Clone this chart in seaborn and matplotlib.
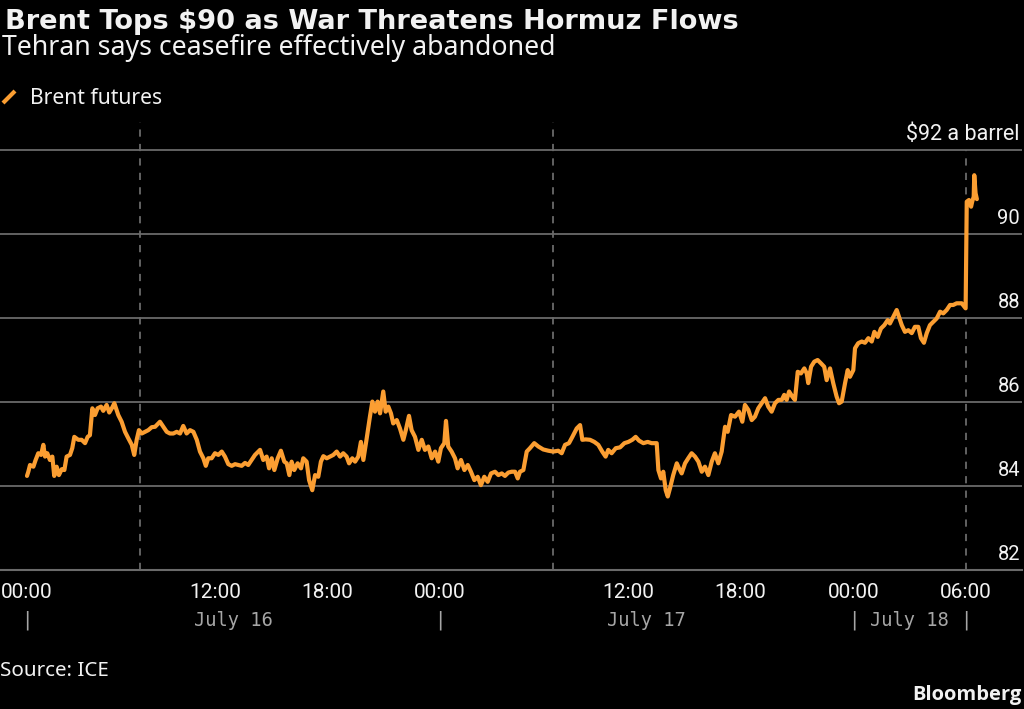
import matplotlib
matplotlib.use("Agg")
import matplotlib.pyplot as plt
import matplotlib.transforms as mtransforms
from matplotlib.lines import Line2D
import pandas as pd
import seaborn as sns

# x = trading hours since 00:00 July 16 (the 2h pause at 06:00 is skipped)
hours = [
    0.00, 0.07, 0.16, 0.34, 0.46, 0.60, 0.75, 0.87, 0.96, 1.08,
    1.22, 1.35, 1.45, 1.58, 1.70, 1.85, 1.99, 2.11, 2.29, 2.41,
    2.52, 2.73, 2.91, 3.09, 3.23, 3.35, 3.48, 3.62, 3.76, 3.94,
    4.06, 4.24, 4.38, 4.54, 4.65, 4.86, 5.04, 5.22, 5.39, 5.58,
    5.71, 5.84, 5.96, 6.11, 6.28, 6.46, 6.64, 6.82, 7.08, 7.26,
    7.44, 7.61, 7.79, 7.97, 8.15, 8.32, 8.50, 8.68, 8.86, 9.04,
    9.21, 9.39, 9.52, 9.65, 9.83, 10.01, 10.19, 10.37, 10.54, 10.72,
    10.90, 11.08, 11.25, 11.43, 11.61, 11.78, 11.96,
    12.14, 12.41, 12.58, 12.76, 12.89, 13.03, 13.17, 13.35, 13.52, 13.70,
    13.83, 13.97, 14.09, 14.23, 14.41, 14.59, 14.71, 14.89, 15.02, 15.19,
    15.34, 15.51, 15.65, 15.78, 15.96, 16.13, 16.31, 16.49, 16.67, 16.84,
    17.02, 17.15, 17.32, 17.47, 17.64, 17.78, 17.91, 18.09, 18.26, 18.39,
    18.53, 18.67, 18.80, 18.97, 19.10, 19.24, 19.38, 19.50, 19.69, 19.86,
    20.04, 20.17, 20.34, 20.48, 20.66, 20.84, 21.02, 21.19, 21.37, 21.55,
    21.73, 21.90, 22.04, 22.22, 22.31, 22.43, 22.61, 22.79, 22.93, 23.11,
    23.29, 23.47, 23.64, 23.82, 24.00, 24.17, 24.35, 24.53, 24.71,
    24.92, 25.10, 25.28, 25.45, 25.63, 25.81, 25.99, 26.13, 26.25, 26.43,
    26.61, 26.78, 27.01, 27.23, 27.49, 27.76, 28.02, 28.29, 28.47, 28.65,
    28.86, 29.04, 29.27, 29.45, 29.57, 29.75, 29.98, 30.21, 30.42, 30.63,
    30.81, 30.95, 31.13, 31.35, 31.58, 31.81, 32.02, 32.23, 32.41, 32.59,
    32.82, 33.05, 33.26, 33.53, 33.62, 33.76, 33.88, 34.01, 34.12, 34.24,
    34.41, 34.60, 34.72, 34.86, 35.04, 35.21, 35.39, 35.57, 35.75, 35.93,
    36.10, 36.28, 36.46, 36.63, 36.81, 36.99, 37.17, 37.31, 37.49, 37.70,
    37.91, 38.09,
    38.23, 38.41, 38.59, 38.76, 38.94, 39.12, 39.30, 39.47, 39.65, 39.83,
    40.01, 40.19, 40.32, 40.45, 40.58, 40.75, 40.89, 41.04, 41.21, 41.39,
    41.52, 41.60, 41.75, 41.92, 42.10, 42.28, 42.45, 42.58, 42.76, 42.93,
    43.11, 43.24, 43.38, 43.56, 43.70, 43.82, 44.00, 44.09, 44.26, 44.45,
    44.62, 44.80, 44.98, 45.12, 45.30, 45.47, 45.65, 45.83, 45.95, 46.13,
    46.31, 46.43, 46.58, 46.75, 46.93, 47.11, 47.28, 47.46, 47.60, 47.76,
    47.91, 48.08, 48.26, 48.44, 48.62, 48.79, 48.97, 49.15, 49.32, 49.50,
    49.77, 49.98, 50.04, 50.16, 50.27, 50.33, 50.41, 50.44, 50.51, 50.58,
]
prices = [
    84.24, 84.34, 84.50, 84.46, 84.62, 84.78, 84.74, 84.98, 84.70, 84.78,
    84.62, 84.70, 84.24, 84.46, 84.26, 84.40, 84.38, 84.70, 84.74, 84.90,
    85.17, 85.10, 85.10, 85.02, 85.17, 85.21, 85.85, 85.69, 85.85, 85.89,
    85.79, 85.93, 85.75, 85.87, 85.97, 85.69, 85.53, 85.29, 85.14, 84.98,
    84.74, 85.10, 85.33, 85.25, 85.29, 85.33, 85.40, 85.41, 85.53, 85.41,
    85.29, 85.25, 85.25, 85.29, 85.25, 85.43, 85.25, 85.33, 85.29, 85.10,
    84.82, 84.66, 84.48, 84.66, 84.66, 84.78, 84.74, 84.82, 84.70, 84.52,
    84.48, 84.52, 84.50, 84.48, 84.55, 84.50, 84.62,
    84.74, 84.86, 84.62, 84.70, 84.42, 84.66, 84.38, 84.66, 84.84, 84.58,
    84.54, 84.26, 84.58, 84.38, 84.54, 84.42, 84.66, 84.58, 84.14, 83.90,
    84.26, 84.22, 84.58, 84.71, 84.66, 84.70, 84.74, 84.82, 84.70, 84.78,
    84.70, 84.54, 84.66, 84.58, 84.70, 85.05, 84.62, 85.14, 85.65, 86.01,
    85.77, 86.01, 85.73, 86.25, 85.77, 85.89, 85.73, 85.49, 85.57, 85.37,
    85.10, 85.33, 85.67, 85.33, 85.17, 84.86, 85.10, 84.86, 84.94, 84.66,
    84.82, 84.58, 84.90, 85.02, 85.55, 84.94, 84.82, 84.66, 84.42, 84.62,
    84.38, 84.50, 84.34, 84.14, 84.22, 84.02, 84.22, 84.10, 84.30,
    84.34, 84.26, 84.30, 84.24, 84.32, 84.34, 84.34, 84.18, 84.34, 84.38,
    84.82, 84.90, 85.02, 84.94, 84.87, 84.84, 84.82, 84.84, 84.78, 84.98,
    85.02, 85.17, 85.37, 85.45, 85.10, 85.11, 85.10, 85.05, 84.98, 84.82,
    84.70, 84.86, 84.78, 84.90, 84.92, 85.02, 85.05, 85.10, 85.17, 85.08,
    85.02, 85.05, 85.02, 85.02, 84.38, 84.18, 84.34, 83.90, 83.75, 83.95,
    84.26, 84.54, 84.42, 84.30, 84.54, 84.66, 84.78, 84.70, 84.58, 84.34,
    84.46, 84.26, 84.58, 84.78, 84.54, 84.82, 85.41, 85.29, 85.69, 85.65,
    85.77, 85.53,
    85.93, 85.81, 85.57, 85.65, 85.85, 85.97, 86.09, 85.89, 85.77, 85.97,
    86.05, 86.05, 86.17, 86.05, 86.25, 86.13, 86.05, 86.72, 86.68, 86.80,
    86.68, 86.45, 86.84, 86.96, 87.00, 86.92, 86.84, 86.52, 86.80, 86.45,
    86.13, 85.97, 86.01, 86.45, 86.76, 86.60, 86.76, 87.28, 87.40, 87.44,
    87.41, 87.52, 87.44, 87.67, 87.55, 87.75, 87.83, 87.95, 87.87, 88.03,
    88.19, 88.03, 87.83, 87.67, 87.71, 87.64, 87.79, 87.79, 87.52, 87.41,
    87.64, 87.83, 87.91, 87.99, 88.15, 88.11, 88.19, 88.31, 88.31, 88.35,
    88.35, 88.23, 90.77, 90.81, 90.65, 90.77, 90.89, 91.40, 90.97, 90.83,
]

tick_hours = [0, 10, 16, 22, 32, 38, 44, 50]
tick_labels = ["00:00", "12:00", "18:00", "00:00", "12:00", "18:00", "00:00", "06:00"]
break_hours = [6, 28, 50]
day_edges = [0, 22, 44, 50]
day_labels = ["July 16", "July 17", "July 18"]
price_ticks = [82, 84, 86, 88, 90, 92]
price_labels = ["82", "84", "86", "88", "90", "$92 a barrel"]

ORANGE = "#fb9e32"
GRID = "#6a6a6a"
WHITE = "#f2f2f2"
GREY_TXT = "#a6a6a6"

sns.set_theme(style="dark")
plt.rcParams["font.family"] = ["Noto Sans", "DejaVu Sans"]
BOLD = ["Open Sans", "DejaVu Sans"]

df = pd.DataFrame({"hours": hours, "price": prices})

fig = plt.figure(figsize=(10.24, 7.09), dpi=100, facecolor="black")
ax = fig.add_axes([0.0, 1 - 570 / 709, 1022 / 1024, (570 - 122) / 709])
ax.set_facecolor("black")

ymin, ymax = 82, 82 + (570 - 122) / 42
for p in break_hours:
    # the last break line stops at the top gridline, under the unit label
    top = 1.0 if p != break_hours[-1] else (price_ticks[-1] - ymin) / (ymax - ymin)
    ax.axvline(p, ymax=top, color=GRID, lw=1.3, ls=(0, (4, 4)), zorder=1)

sns.lineplot(data=df, x="hours", y="price", color=ORANGE, linewidth=3.0,
             estimator=None, sort=False, ax=ax, zorder=3)

ax.set_xlim(-27 / 18.78, (1022 - 27) / 18.78)
ax.set_ylim(ymin, ymax)

# axes and grid
for side in ["top", "left", "right"]:
    ax.spines[side].set_visible(False)
ax.spines["bottom"].set_color(GRID)
ax.spines["bottom"].set_linewidth(1.5)
ax.set_yticks(price_ticks)
ax.yaxis.grid(True, color=GRID, lw=1.3)
ax.xaxis.grid(False)
ax.tick_params(axis="y", left=False, labelleft=False)

ax.set_xticks(tick_hours)
ax.set_xticklabels(tick_labels, fontfamily="Roboto", fontsize=15, color=WHITE)
ax.set_xticks(range(0, 53), minor=True)
ax.tick_params(axis="x", which="major", direction="out", length=7.5, width=1.3,
               color=GRID, pad=2)
ax.tick_params(axis="x", which="minor", direction="out", length=3.6, width=1.1,
               color=GRID)
ax.set_xlabel("")
ax.set_ylabel("")

# right-hand price labels sitting above the gridlines
for val, lab in zip(price_ticks, price_labels):
    size = 15.5 if lab.startswith("$") else 14.5
    ax.annotate(lab, xy=(1020 / 1022, val), xycoords=("axes fraction", "data"),
                xytext=(0, 7.5), textcoords="offset points", ha="right",
                va="baseline", fontfamily="Roboto", fontsize=size, color=WHITE)

# date row
row = mtransforms.blended_transform_factory(ax.transData, fig.transFigure)
for i, lab in enumerate(day_labels):
    mid = (day_edges[i] + day_edges[i + 1]) / 2
    ax.text(mid, 1 - 626 / 709, lab, transform=row, ha="center", va="baseline",
            fontfamily="DejaVu Sans Mono", fontsize=13.5, color=GREY_TXT)
for p in day_edges:
    ax.text(p, 1 - 626 / 709, "|", transform=row, ha="center", va="baseline",
            fontfamily="DejaVu Sans Mono", fontsize=13.5, color=GREY_TXT)

# titles, legend, footer
fig.text(5 / 1024, 1 - 29 / 709, "Brent Tops $90 as War Threatens Hormuz Flows",
         fontsize=19.6, fontweight="bold", family="DejaVu Sans", color=WHITE,
         va="baseline")
fig.text(2 / 1024, 1 - 55 / 709, "Tehran says ceasefire effectively abandoned",
         fontsize=19.2, color=WHITE, va="baseline")
fig.add_artist(Line2D([3 / 1024, 15 / 1024], [1 - 103 / 709, 1 - 91 / 709],
                      transform=fig.transFigure, color=ORANGE, lw=3,
                      solid_capstyle="butt"))
fig.text(30 / 1024, 1 - 104 / 709, "Brent futures", fontsize=15.2, color=WHITE,
         va="baseline")
fig.text(0, 1 - 676 / 709, "Source: ICE", fontsize=14.8, color=WHITE, va="baseline")
fig.text(1022 / 1024, 1 - 700 / 709, "Bloomberg", fontsize=14.5, fontweight="bold",
         family=BOLD, color=WHITE, ha="right", va="baseline")

fig.savefig("out.png", dpi=100, facecolor="black")
